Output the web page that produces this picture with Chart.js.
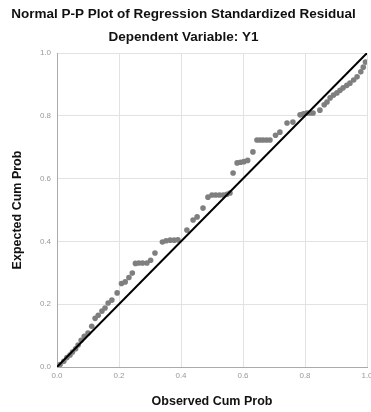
<!DOCTYPE html>
<html>
<head>
<meta charset="utf-8">
<script src="https://cdn.jsdelivr.net/npm/chart.js@4.4.1/dist/chart.umd.min.js"></script>
<style>
  html, body { margin: 0; padding: 0; background: #fff; }
  #wrap { width: 371px; height: 412px; }
</style>
</head>
<body>
<div id="wrap"><canvas id="pp"></canvas></div>
<script>
// observed vs expected cumulative probability
const observedCum = [0.010, 0.022, 0.032, 0.042, 0.050, 0.060, 0.068, 0.078, 0.088, 0.100,
  0.112, 0.123, 0.133, 0.145, 0.155, 0.165, 0.177, 0.194, 0.208, 0.220,
  0.232, 0.243, 0.253, 0.264, 0.276, 0.290, 0.302, 0.316, 0.340, 0.352,
  0.365, 0.378, 0.390, 0.419, 0.439, 0.452, 0.471, 0.487, 0.500, 0.512,
  0.524, 0.536, 0.548, 0.558, 0.568, 0.581, 0.592, 0.603, 0.615, 0.632,
  0.645, 0.655, 0.665, 0.676, 0.687, 0.705, 0.719, 0.742, 0.761, 0.784,
  0.795, 0.806, 0.816, 0.826, 0.848, 0.862, 0.871, 0.881, 0.892, 0.903,
  0.913, 0.923, 0.935, 0.945, 0.957, 0.968, 0.980, 0.988, 0.995];
const expectedCum = [0.008, 0.018, 0.030, 0.038, 0.048, 0.058, 0.070, 0.085, 0.098, 0.108,
  0.130, 0.155, 0.165, 0.178, 0.188, 0.204, 0.213, 0.236, 0.266, 0.271,
  0.285, 0.299, 0.330, 0.331, 0.331, 0.331, 0.340, 0.363, 0.398, 0.402,
  0.404, 0.404, 0.405, 0.436, 0.468, 0.478, 0.506, 0.541, 0.548, 0.548,
  0.548, 0.548, 0.550, 0.554, 0.618, 0.650, 0.652, 0.654, 0.658, 0.685,
  0.723, 0.723, 0.723, 0.723, 0.723, 0.738, 0.748, 0.777, 0.780, 0.803,
  0.806, 0.809, 0.809, 0.809, 0.818, 0.835, 0.844, 0.857, 0.866, 0.873,
  0.881, 0.889, 0.897, 0.904, 0.914, 0.924, 0.940, 0.955, 0.971];
const refLine = [0, 1];
const tickValues = [0, 0.2, 0.4, 0.6, 0.8, 1.0];

const titleText = "Normal P-P Plot of Regression Standardized Residual";
const subtitleText = "Dependent Variable: Y1";
const xTitle = "Observed Cum Prob";
const yTitle = "Expected Cum Prob";

const points = observedCum.map((x, i) => ({ x, y: expectedCum[i] }));
const diag = refLine.map(v => ({ x: v, y: v }));

const fam = "Liberation Sans, Arial, sans-serif";
const tickFont = { family: fam, size: 8 };
const headFont = { family: fam, size: 13.5, weight: "bold" };
const axisFont = { family: fam, size: 12.5, weight: "bold" };

new Chart(document.getElementById("pp"), {
  type: "scatter",
  data: {
    datasets: [
      {
        data: points,
        backgroundColor: "#7f7f7f",
        borderColor: "#7f7f7f",
        borderWidth: 0,
        pointRadius: 2.8,
        order: 2
      },
      {
        type: "line",
        data: diag,
        borderColor: "#000",
        borderWidth: 2,
        pointRadius: 0,
        fill: false,
        order: 1
      }
    ]
  },
  options: {
    responsive: true,
    maintainAspectRatio: false,
    animation: false,
    layout: { padding: { left: 0, right: 4, top: 0, bottom: 0 } },
    plugins: {
      legend: { display: false },
      tooltip: { enabled: false },
      title: {
        display: true,
        text: titleText,
        color: "#111",
        font: headFont,
        padding: { top: 6, bottom: 0 }
      },
      subtitle: {
        display: true,
        text: subtitleText,
        color: "#111",
        font: headFont,
        padding: { top: 6.7, bottom: 7.9 }
      }
    },
    scales: {
      x: {
        type: "linear",
        min: 0, max: 1,
        afterBuildTicks: s => { s.ticks = tickValues.map(v => ({ value: v })); },
        afterFit: s => { s.height = 45; s.paddingRight = 0; s.paddingLeft = 0; },
        ticks: {
          color: "#999",
          font: tickFont,
          padding: 4,
          callback: v => v.toFixed(1)
        },
        grid: { color: "#e2e2e2", drawTicks: false },
        border: { color: "#aaa", width: 1 },
        title: {
          display: true,
          text: xTitle,
          color: "#111",
          font: axisFont,
          padding: { top: 0, bottom: 3 }
        }
      },
      y: {
        type: "linear",
        min: 0, max: 1,
        afterBuildTicks: s => { s.ticks = tickValues.map(v => ({ value: v })); },
        afterFit: s => { s.width = 57; },
        ticks: {
          color: "#999",
          font: tickFont,
          padding: 6,
          callback: v => v.toFixed(1)
        },
        grid: { color: "#e2e2e2", drawTicks: false },
        border: { color: "#aaa", width: 1 },
        title: {
          display: true,
          text: yTitle,
          color: "#111",
          font: axisFont,
          padding: { top: 10, bottom: 0 }
        }
      }
    }
  }
});
</script>
</body>
</html>
